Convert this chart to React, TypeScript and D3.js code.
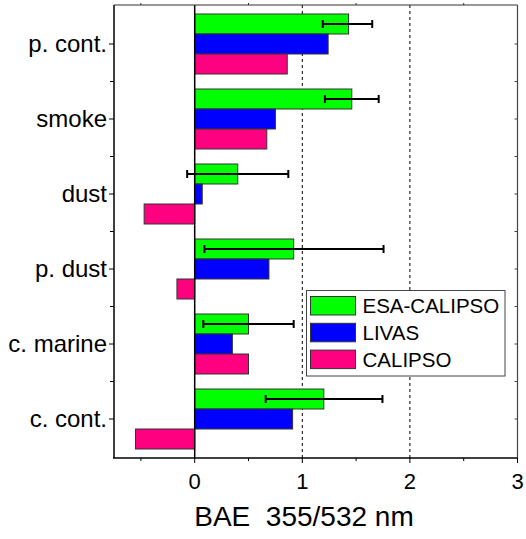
import React from "react";
import * as d3 from "d3";

const categories = ["p. cont.", "smoke", "dust", "p. dust", "c. marine", "c. cont."];
const seriesNames = ["ESA-CALIPSO", "LIVAS", "CALIPSO"];
const esaValues = [1.43, 1.46, 0.40, 0.92, 0.50, 1.20];
const esaErrLow = [1.19, 1.21, -0.07, 0.09, 0.08, 0.66];
const esaErrHigh = [1.65, 1.71, 0.87, 1.755, 0.92, 1.745];
const livasValues = [1.24, 0.75, 0.07, 0.69, 0.35, 0.91];
const calipsoValues = [0.86, 0.67, -0.47, -0.165, 0.50, -0.55];
const xMajorTicks = [0, 1, 2, 3];
const xMinorTicks = [-0.5, 0.5, 1.5, 2.5];
const gridTicks = [1, 2];
const colors = ["#00ff00", "#0000ff", "#ff0080"];

const W = 526;
const H = 539;
const left = 114;
const right = 517.5;
const top = 5;
const bottom = 458;
const font = "'Liberation Sans', Arial, Helvetica, sans-serif";

export default function App() {
  const x = d3.scaleLinear().domain([-0.75, 3]).range([left, right]);
  const y = d3.scaleBand<string>().domain(categories).range([top + 1.5, bottom - 1.5]);
  const step = y.step();
  const barH = 20;
  const series = [esaValues, livasValues, calipsoValues];
  const boundaries = d3.range(1, categories.length).map((i) => (y(categories[i]) as number));

  return (
    <svg width={W} height={H} style={{ position: "absolute", left: 0, top: 0, background: "#fff" }} fontFamily={font}>
      <rect x={0} y={0} width={W} height={H} fill="#fff" />
      {/* grid */}
      {gridTicks.map((t) => (
        <line key={"g" + t} x1={x(t)} x2={x(t)} y1={top} y2={bottom} stroke="#000" strokeWidth={1} strokeDasharray="3,3" />
      ))}
      {/* bars */}
      {categories.map((c, i) => {
        const cy = (y(c) as number) + step / 2;
        return (
          <g key={c}>
            {series.map((vals, s) => {
              const v = vals[i];
              const y0 = cy - 30 + s * barH;
              return (
                <rect
                  key={s}
                  x={Math.min(x(0), x(v))}
                  y={y0}
                  width={Math.abs(x(v) - x(0))}
                  height={barH}
                  fill={colors[s]}
                  stroke="#333"
                  strokeWidth={1}
                />
              );
            })}
          </g>
        );
      })}
      {/* error bars */}
      {categories.map((c, i) => {
        const cy = (y(c) as number) + step / 2 - 20;
        return (
          <g key={"e" + c} stroke="#000" strokeWidth={2}>
            <line x1={x(esaErrLow[i])} x2={x(esaErrHigh[i])} y1={cy} y2={cy} />
            <line x1={x(esaErrLow[i])} x2={x(esaErrLow[i])} y1={cy - 4} y2={cy + 4} />
            <line x1={x(esaErrHigh[i])} x2={x(esaErrHigh[i])} y1={cy - 4} y2={cy + 4} />
          </g>
        );
      })}
      {/* zero line */}
      <line x1={x(0)} x2={x(0)} y1={top} y2={bottom} stroke="#000" strokeWidth={1.5} />
      {/* frame */}
      <line x1={left} x2={right} y1={top} y2={top} stroke="#333" strokeWidth={1.2} />
      <line x1={right} x2={right} y1={top} y2={bottom} stroke="#444" strokeWidth={1.2} />
      <line x1={left} x2={left} y1={top} y2={bottom} stroke="#000" strokeWidth={1.5} />
      <line x1={left - 1} x2={right} y1={bottom} y2={bottom} stroke="#000" strokeWidth={1.5} />
      {/* left ticks */}
      {categories.map((c) => {
        const cy = (y(c) as number) + step / 2;
        return (
          <g key={"lt" + c}>
            <line x1={left - 5} x2={left} y1={cy} y2={cy} stroke="#000" strokeWidth={1} />
            <line x1={right - 3} x2={right} y1={cy} y2={cy} stroke="#444" strokeWidth={1} />
            <text x={left - 7} y={cy} dy="0.35em" textAnchor="end" fontSize={24} fill="#000">
              {c}
            </text>
          </g>
        );
      })}
      {boundaries.map((b, i) => (
        <g key={"lb" + i}>
          <line x1={left - 4} x2={left} y1={b} y2={b} stroke="#000" strokeWidth={1} />
          <line x1={right - 3} x2={right} y1={b} y2={b} stroke="#444" strokeWidth={1} />
        </g>
      ))}
      {/* bottom ticks */}
      {xMajorTicks.map((t) => (
        <g key={"bt" + t}>
          <line x1={x(t)} x2={x(t)} y1={bottom} y2={bottom + 5} stroke="#000" strokeWidth={1} />
          <text x={x(t)} y={bottom + 31} textAnchor="middle" fontSize={22} fill="#000">
            {t}
          </text>
        </g>
      ))}
      {xMinorTicks.map((t) => (
        <g key={"bm" + t}>
          <line x1={x(t)} x2={x(t)} y1={bottom} y2={bottom + 3} stroke="#000" strokeWidth={1} />
          <line x1={x(t)} x2={x(t)} y1={top} y2={top - 2} stroke="#333" strokeWidth={1} />
        </g>
      ))}
      <text x={304} y={526} textAnchor="middle" fontSize={28} fill="#000" xmlSpace="preserve">
        BAE  355/532 nm
      </text>
      {/* legend */}
      <g>
        <rect x={306.5} y={290.5} width={198.5} height={85.5} fill="#fff" stroke="#444" strokeWidth={1} />
        {seriesNames.map((n, i) => (
          <g key={n}>
            <rect x={310.5} y={296.5 + i * 26.8} width={45} height={18.5} fill={colors[i]} stroke="#333" strokeWidth={1} />
            <text x={362.5} y={305.8 + i * 26.8} dy="0.35em" fontSize={20.5} fill="#000">
              {n}
            </text>
          </g>
        ))}
      </g>
    </svg>
  );
}
